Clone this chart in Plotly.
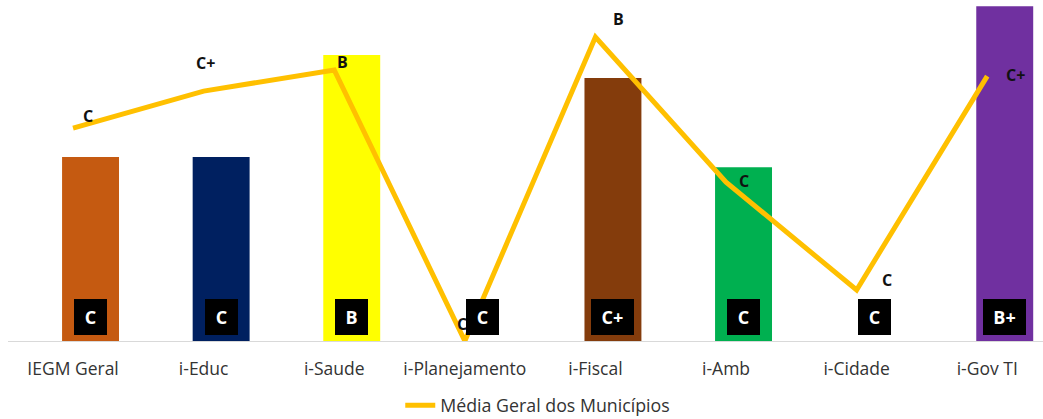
import plotly.graph_objects as go

categories = ["IEGM Geral", "i-Educ", "i-Saude", "i-Planejamento", "i-Fiscal", "i-Amb", "i-Cidade", "i-Gov TI"]
bar_values = [41.8, 41.8, 65.0, 0, 59.8, 39.5, 0, 76.1]
bar_grades = ["C", "C", "B", "C", "C+", "C", "C", "B+"]
bar_colors = ["#C55A11", "#002060", "#FFFF00", "#FFFFFF", "#843C0C", "#00B050", "#FFFFFF", "#7030A0"]
line_values = [48.4, 56.8, 61.6, 0, 69.1, 36.1, 11.6, 60.2]
line_grades = ["C", "C+", "B", "C", "B", "C", "C", "C+"]
line_name = "Média Geral dos Municípios"

# label offsets (styling)
label_shift = [(15, 12), (2, 28), (8, 8), (-3, 17), (23, 18), (18, 1), (30, 10), (28, 1)]

FONT = "Open Sans"

fig = go.Figure()
fig.add_trace(go.Bar(
    x=categories, y=bar_values, marker=dict(color=bar_colors, line=dict(width=0)),
    width=0.436, showlegend=False, hoverinfo="skip", xaxis="x", yaxis="y"))
fig.add_trace(go.Scatter(
    x=categories, y=line_values, mode="lines", name=line_name,
    line=dict(color="#FFC000", width=5), xaxis="x2", yaxis="y", showlegend=True))

annotations = []
for i, (c, g, v) in enumerate(zip(categories, line_grades, line_values)):
    dx, dy = label_shift[i]
    annotations.append(dict(x=c, y=v, xref="x2", yref="y", text=g, showarrow=False,
                            xshift=dx, yshift=dy,
                            font=dict(family=FONT, size=16, color="#111111", weight="bold")))
for c, g in zip(categories, bar_grades):
    w = 19 if len(g) == 1 else 29
    annotations.append(dict(x=c, y=0, xref="x", yref="y", text=g, showarrow=False,
                            yanchor="bottom", yshift=6, width=w, height=22,
                            bgcolor="#000000", bordercolor="#000000", borderwidth=1, borderpad=6,
                            font=dict(family=FONT, size=18, color="#FFFFFF", weight="bold")))

fig.update_layout(
    width=1043, height=419,
    margin=dict(l=8, r=0, t=0, b=78, autoexpand=False),
    paper_bgcolor="white", plot_bgcolor="white",
    font=dict(family=FONT, size=17.5, color="#333333"),
    xaxis=dict(range=[-0.632, 7.293], showgrid=False, zeroline=False, showline=True,
               linecolor="#D9D9D9", linewidth=1, ticks="", showticklabels=False,
               automargin=False),
    xaxis2=dict(range=[-0.498, 7.427], overlaying="x", side="bottom", showgrid=False,
                zeroline=False, showline=False, ticks="", ticklabelstandoff=15,
                automargin=False,
                tickfont=dict(family=FONT, size=17.5, color="#333333")),
    yaxis=dict(range=[0, 77.5], visible=False, showgrid=False, zeroline=False),
    legend=dict(orientation="h", x=0.379, xanchor="left", y=-0.19, yanchor="middle",
                font=dict(family=FONT, size=17.8, color="#333333")),
    annotations=annotations,
    bargap=0.564,
)

fig.write_html("out.html")
